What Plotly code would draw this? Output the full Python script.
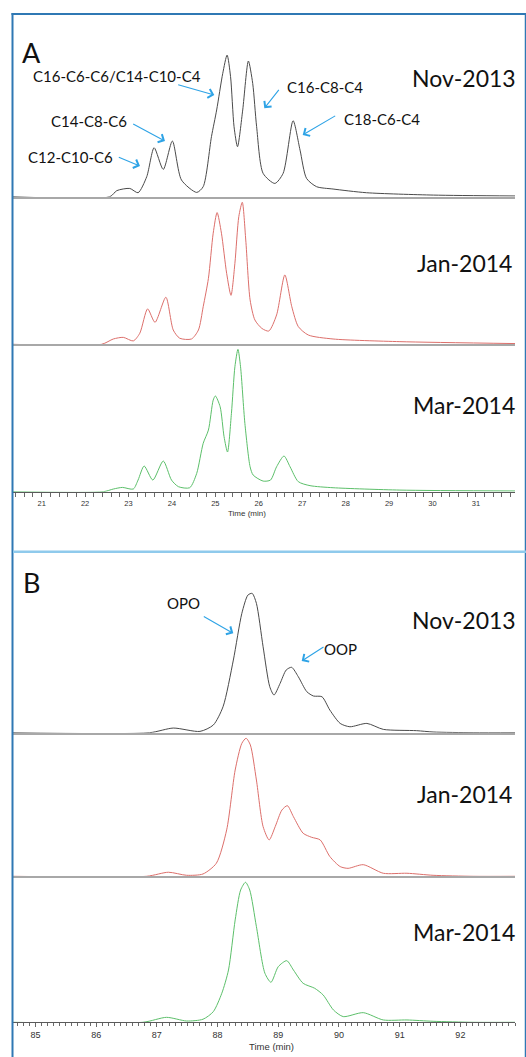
import plotly.graph_objects as go

W, H = 526, 1057

# ---------------- data (time in min, relative intensity in % of panel height) ----------------
a_nov_t = [20.34, 22.57, 22.73, 23.03, 23.22, 23.42, 23.59, 23.80, 24.01, 24.22, 24.57, 24.72, 24.91, 25.03,
           25.17, 25.27, 25.35, 25.43, 25.51, 25.63, 25.76, 25.86, 25.95, 26.10, 26.37, 26.56, 26.79, 26.95,
           27.10, 27.33, 27.71, 28.48, 30.02, 31.90]
a_nov_y = [0.0, 0.0, 4.1, 5.6, 2.7, 13.6, 33.2, 18.5, 37.7, 11.3, 2.9, 6.8, 40.7, 58.8,
           83.6, 96.0, 81.4, 47.5, 33.9, 58.8, 92.0, 76.8, 47.5, 15.8, 9.0, 15.8, 51.5, 31.6,
           12.4, 6.8, 5.2, 2.7, 1.1, 0.5]

a_jan_t = [20.34, 22.38, 22.65, 22.88, 23.11, 23.26, 23.44, 23.61, 23.86, 24.03, 24.18, 24.45, 24.61, 24.72,
           24.84, 24.95, 25.04, 25.14, 25.26, 25.36, 25.45, 25.54, 25.62, 25.70, 25.80, 25.91, 26.07, 26.23,
           26.41, 26.60, 26.76, 26.91, 27.14, 27.71, 29.25, 31.90]
a_jan_y = [0.0, 0.0, 3.6, 4.7, 2.3, 7.5, 24.0, 14.9, 31.9, 9.7, 4.1, 3.6, 9.7, 25.5,
           44.7, 75.3, 89.3, 75.3, 48.1, 33.2, 54.9, 86.6, 96.3, 70.7, 30.1, 16.5, 10.8, 9.0,
           19.9, 47.0, 25.5, 12.0, 6.3, 3.6, 1.8, 0.5]

a_mar_t = [20.34, 22.42, 22.65, 22.86, 23.11, 23.22, 23.36, 23.56, 23.80, 23.99, 24.15, 24.41, 24.57, 24.72,
           24.84, 24.95, 25.00, 25.11, 25.20, 25.28, 25.37, 25.45, 25.52, 25.58, 25.68, 25.80, 25.87, 26.10,
           26.27, 26.41, 26.58, 26.72, 26.91, 27.18, 27.71, 29.25, 31.90]
a_mar_y = [0.0, 0.0, 1.8, 2.9, 1.8, 7.9, 17.4, 7.9, 20.8, 7.9, 3.4, 2.7, 12.4, 32.8,
           41.8, 62.1, 64.9, 57.6, 37.3, 26.9, 53.1, 84.7, 96.5, 84.7, 46.3, 16.9, 11.3, 7.2,
           7.9, 16.9, 24.2, 16.9, 6.8, 4.1, 2.7, 1.1, 0.5]

b_nov_t = [84.63, 86.88, 87.27, 87.71, 87.93, 88.09, 88.26, 88.40, 88.50, 88.57, 88.64, 88.75, 88.86, 88.93,
           89.03, 89.13, 89.22, 89.33, 89.47, 89.58, 89.72, 89.85, 90.02, 90.18, 90.46, 90.73, 91.28, 91.55,
           92.21, 92.90]
b_nov_y = [0.0, 0.0, 3.2, 0.9, 5.3, 17.9, 50.1, 82.3, 94.9, 96.1, 89.2, 59.3, 31.7, 26.0,
           34.0, 43.2, 45.1, 38.6, 28.3, 25.3, 24.8, 15.6, 6.4, 4.1, 6.4, 2.3, 1.4, 0.5,
           0.0, 0.0]

b_jan_t = [84.63, 86.83, 87.19, 87.49, 87.76, 87.98, 88.15, 88.29, 88.40, 88.47, 88.54, 88.64, 88.75, 88.85,
           88.95, 89.06, 89.15, 89.25, 89.41, 89.55, 89.69, 89.85, 90.02, 90.15, 90.40, 90.73, 91.12, 91.55,
           92.21, 92.90]
b_jan_y = [0.0, 0.0, 2.8, 0.7, 1.6, 9.0, 32.0, 73.3, 91.7, 95.2, 90.6, 66.4, 34.3, 25.1,
           34.3, 45.7, 48.7, 41.1, 29.7, 26.9, 25.1, 13.6, 6.7, 5.5, 8.0, 2.1, 2.1, 0.7,
           0.0, 0.0]

b_mar_t = [84.63, 86.77, 87.16, 87.49, 87.76, 87.93, 88.07, 88.18, 88.29, 88.38, 88.46, 88.53, 88.64, 88.78,
           88.88, 89.00, 89.14, 89.25, 89.41, 89.60, 89.74, 89.91, 90.07, 90.40, 90.73, 91.12, 91.55, 92.21,
           92.90]
b_mar_y = [0.0, 0.0, 3.4, 0.9, 2.1, 7.3, 19.9, 35.8, 70.1, 90.6, 95.9, 90.6, 65.5, 33.6,
           27.4, 38.1, 42.2, 35.8, 26.7, 23.3, 18.7, 8.4, 3.9, 6.6, 1.6, 1.6, 0.7, 0.0,
           0.0]

sample_labels = ["Nov-2013", "Jan-2014", "Mar-2014"]
panel_labels = ["A", "B"]
peak_labels_a = ["C16-C6-C6/C14-C10-C4", "C16-C8-C4", "C14-C8-C6", "C12-C10-C6", "C18-C6-C4"]
peak_labels_b = ["OPO", "OOP"]
x_title = "Time (min)"
range_a = [20.34, 31.90]
range_b = [84.63, 92.90]

# ---------------- styling / layout ----------------
line_colors = ["#4a4a4a", "#dc6f6b", "#5cbf6a"]
text_font = "Lato, 'Open Sans', sans-serif"
tick_font = "'Liberation Sans', Arial, sans-serif"

def px(x):
    return x / W

def py(y):
    return 1 - y / H

x_dom = [px(13), px(515)]
# (baseline px, top px) for each subplot: A-Nov, A-Jan, A-Mar, B-Nov, B-Jan, B-Mar
domains_px = [(196.7, 49.2), (344.3, 196.8), (491.7, 344.2),
              (732.7, 587.7), (876.3, 731.3), (1022.3, 876.3)]

series = [(a_nov_t, a_nov_y), (a_jan_t, a_jan_y), (a_mar_t, a_mar_y),
          (b_nov_t, b_nov_y), (b_jan_t, b_jan_y), (b_mar_t, b_mar_y)]

fig = go.Figure()
layout = dict(width=W, height=H, margin=dict(l=0, r=0, t=0, b=0),
              paper_bgcolor="white", plot_bgcolor="rgba(0,0,0,0)", showlegend=False)

for i, (t, y) in enumerate(series):
    k = i + 1
    xa = "x" if k == 1 else f"x{k}"
    ya = "y" if k == 1 else f"y{k}"
    fig.add_trace(go.Scatter(x=t, y=y, mode="lines", xaxis=xa, yaxis=ya,
                             line=dict(color=line_colors[i % 3], width=1, shape="spline", smoothing=0.7),
                             hoverinfo="skip"))
    bottom = (i % 3 == 2)
    panel_a = i < 3
    xr = range_a if panel_a else range_b
    xaxis = dict(domain=x_dom, range=xr, anchor=ya, showgrid=False, zeroline=False,
                 showline=True, linecolor="#5a5a5a" if bottom else "#a8a8a8",
                 linewidth=1 if bottom else 1.5, fixedrange=True)
    if bottom:
        xaxis.update(ticks="outside", ticklen=4, tickwidth=1, tickcolor="#6a6a6a",
                     dtick=1, tick0=0, showticklabels=True,
                     tickfont=dict(family=tick_font, size=7.5 if panel_a else 9, color="#333333"),
                     minor=dict(dtick=0.2 if panel_a else 0.1, tick0=0, ticks="outside",
                                ticklen=4 if panel_a else 3, tickcolor="#6a6a6a", tickwidth=1))
    else:
        xaxis.update(ticks="", showticklabels=False)
    b, tp = domains_px[i]
    yaxis = dict(domain=[py(b), py(tp)], range=[0, 100], anchor=xa, visible=False, fixedrange=True)
    layout["xaxis" if k == 1 else f"xaxis{k}"] = xaxis
    layout["yaxis" if k == 1 else f"yaxis{k}"] = yaxis

fig.update_layout(**layout)

ann = []
def text(s, x, y, size, color="#111111", family=text_font):
    ann.append(dict(text=s, x=px(x), y=py(y), xref="paper", yref="paper", showarrow=False,
                    xanchor="center", yanchor="middle", font=dict(family=family, size=size, color=color)))

def arrow(tail, head):
    ann.append(dict(text="", x=px(head[0]), y=py(head[1]), xref="paper", yref="paper",
                    showarrow=True, ax=tail[0] - head[0], ay=tail[1] - head[1],
                    arrowhead=4, arrowsize=1.6, arrowwidth=1.1, arrowcolor="#2ea3e6", standoff=0))

# panel letters
text(panel_labels[0], 31, 52, 27)
text(panel_labels[1], 31, 582.5, 27)
# sample labels
for lbl, yy in zip(sample_labels, [78, 263.3, 405]):
    text(lbl, 464, yy, 23)
for lbl, yy in zip(sample_labels, [620, 794, 931.7]):
    text(lbl, 464, yy, 23)
# peak labels A
text(peak_labels_a[0], 116.7, 76, 15)
text(peak_labels_a[1], 325, 86.7, 15)
text(peak_labels_a[2], 88.5, 121, 15)
text(peak_labels_a[3], 70, 157, 15)
text(peak_labels_a[4], 382, 119, 15)
arrow((176.7, 84.3), (214.3, 95))
arrow((280, 88.3), (264.3, 108.3))
arrow((131.7, 123.3), (165, 141))
arrow((117.3, 156.7), (140, 166))
arrow((336.7, 115), (302.7, 135))
# peak labels B
text(peak_labels_b[0], 183.7, 602.5, 15)
text(peak_labels_b[1], 340, 649, 15)
arrow((202.3, 615.7), (233.3, 633.3))
arrow((325, 646), (301.7, 661))
# axis titles
text(x_title, 247, 514, 8, color="#333333", family=tick_font)
text(x_title, 271, 1046, 9.5, color="#333333", family=tick_font)

fig.update_layout(annotations=ann)

# frame lines
shapes = [
    dict(type="line", xref="paper", yref="paper", x0=px(11.5), x1=1, y0=py(14), y1=py(14),
         line=dict(color="#2f78b4", width=2)),
    dict(type="line", xref="paper", yref="paper", x0=px(12.5), x1=px(12.5), y0=py(13), y1=0,
         line=dict(color="#2f78b4", width=2)),
    dict(type="line", xref="paper", yref="paper", x0=px(525.5), x1=px(525.5), y0=py(13), y1=0,
         line=dict(color="#2f78b4", width=1.5)),
    dict(type="line", xref="paper", yref="paper", x0=px(13), x1=1, y0=py(551.7), y1=py(551.7),
         line=dict(color="#8fcaec", width=2.5)),
]
fig.update_layout(shapes=shapes)

fig.write_html("out.html", config={"displayModeBar": False})
